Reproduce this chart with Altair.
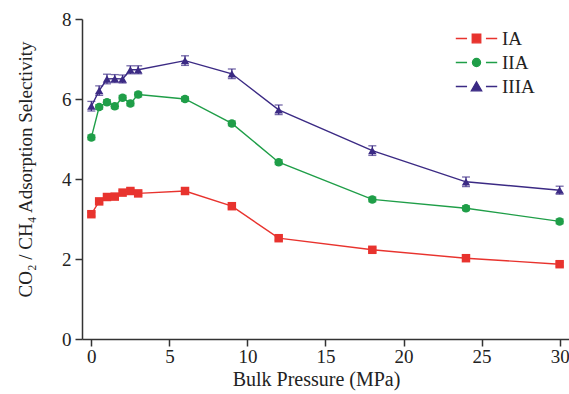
import altair as alt
import pandas as pd

# Bulk pressure (MPa) at which selectivity was computed
pressure = [0, 0.5, 1, 1.5, 2, 2.5, 3, 6, 9, 12, 18, 24, 30]

# CO2/CH4 adsorption selectivity for each system
sel_IA = [3.12, 3.44, 3.55, 3.56, 3.66, 3.70, 3.64, 3.70, 3.32, 2.52, 2.23, 2.02, 1.87]
sel_IIA = [5.04, 5.80, 5.92, 5.82, 6.03, 5.89, 6.11, 6.00, 5.39, 4.42, 3.49, 3.27, 2.94]
sel_IIIA = [5.82, 6.21, 6.50, 6.51, 6.50, 6.73, 6.73, 6.96, 6.63, 5.73, 4.71, 3.93, 3.72]

# Standard deviations (error bars)
err_IA = [0.05] * 13
err_IIA = [0.06] * 13
err_IIIA = [0.12, 0.12, 0.12, 0.10, 0.10, 0.10, 0.10, 0.12, 0.12, 0.12, 0.12, 0.12, 0.10]

series = ["IA", "IIA", "IIIA"]
colors = ["#e8332e", "#1f9e48", "#3b2a84"]
markers = ["square", "circle", "triangle-up"]

# Legend symbols: short line - marker - short line
legend_paths = [
    "M-4.6,0H-2.1M2.1,0H4.6M-0.95,-0.95H0.95V0.95H-0.95Z",
    "M-4.6,0H-2.1M2.1,0H4.6M0.9,0A0.9,0.9,0,1,1,-0.9,0A0.9,0.9,0,1,1,0.9,0Z",
    "M-4.6,0H-2.1M2.1,0H4.6M0,-1.05L1.15,0.95H-1.15Z",
]

rows = []
for name, vals, errs in zip(series, [sel_IA, sel_IIA, sel_IIIA], [err_IA, err_IIA, err_IIIA]):
    for p, v, e in zip(pressure, vals, errs):
        rows.append({"pressure": p, "selectivity": v, "lo": v - e, "hi": v + e, "series": name})
df = pd.DataFrame(rows)

font = "Liberation Serif"
x_enc = alt.X(
    "pressure:Q",
    scale=alt.Scale(domain=[-0.6, 30.6], nice=False, zero=False),
    axis=alt.Axis(values=[0, 5, 10, 15, 20, 25, 30], title="Bulk Pressure (MPa)",
                  labelFont=font, titleFont=font, titleX=234, titleAnchor="start", titleAlign="center"),
)
y_enc = alt.Y(
    "selectivity:Q",
    scale=alt.Scale(domain=[0, 8], nice=False),
    axis=alt.Axis(values=[0, 2, 4, 6, 8], title="CO₂ / CH₄ Adsorption Selectivity",
                  labelFont=font, titleFont=font, titleFontSize=19, titleY=150, titleAlign="center"),
)
col = alt.Color("series:N", scale=alt.Scale(domain=series, range=colors), legend=None)

base = alt.Chart(df)

lines = base.mark_line(strokeWidth=1.4).encode(x=x_enc, y=y_enc, color=col, detail="series:N")

bars = base.mark_errorbar(ticks=alt.MarkConfig(size=8), thickness=1.3).encode(
    x="pressure:Q", y=alt.Y("lo:Q", title=""), y2="hi:Q", color=col
)

points = base.mark_point(filled=True, opacity=1, size=72).encode(
    x="pressure:Q",
    y="selectivity:Q",
    color=col,
    shape=alt.Shape("series:N", scale=alt.Scale(domain=series, range=markers), legend=None),
)

legend_props = dict(
    orient="none",
    legendX=385,
    legendY=10,
    symbolOpacity=1,
    symbolSize=81,
    symbolStrokeWidth=1.3,
    labelOffset=16,
    labelFont=font,
    labelFontSize=19,
    labelColor="#222222",
    rowPadding=4,
    padding=0,
)

legend_layer = base.mark_point(filled=True, opacity=0, size=81, strokeWidth=1.3).encode(
    x="pressure:Q",
    y="selectivity:Q",
    fill=alt.Fill("series:N", scale=alt.Scale(domain=series, range=colors), title=None,
                  legend=alt.Legend(**legend_props)),
    stroke=alt.Stroke("series:N", scale=alt.Scale(domain=series, range=colors), title=None,
                      legend=alt.Legend(**legend_props)),
    shape=alt.Shape("series:N", scale=alt.Scale(domain=series, range=legend_paths), title=None,
                    legend=alt.Legend(**legend_props)),
)

chart = (
    alt.layer(lines, bars, points, legend_layer)
    .resolve_scale(shape="independent", fill="independent", stroke="independent")
    .properties(
        width=487,
        height=320,
        autosize=alt.AutoSizeParams(type="none"),
        padding={"left": 82, "top": 19, "right": 0, "bottom": 55},
        background="white",
    )
    .configure_view(stroke=None)
    .configure_axis(
        grid=False,
        domainColor="#333333",
        domainWidth=1.5,
        tickColor="#333333",
        tickWidth=1.5,
        tickSize=7,
        labelFont=font,
        labelFontSize=19,
        labelColor="#222222",
        titleFont=font,
        titleFontSize=20,
        titleFontWeight="normal",
        titleColor="#222222",
    )
    .configure_axisX(labelPadding=1, titlePadding=3)
    .configure_axisY(labelPadding=4, titlePadding=26)
)

chart.save("out.html", embed_options={"renderer": "svg", "actions": False})
